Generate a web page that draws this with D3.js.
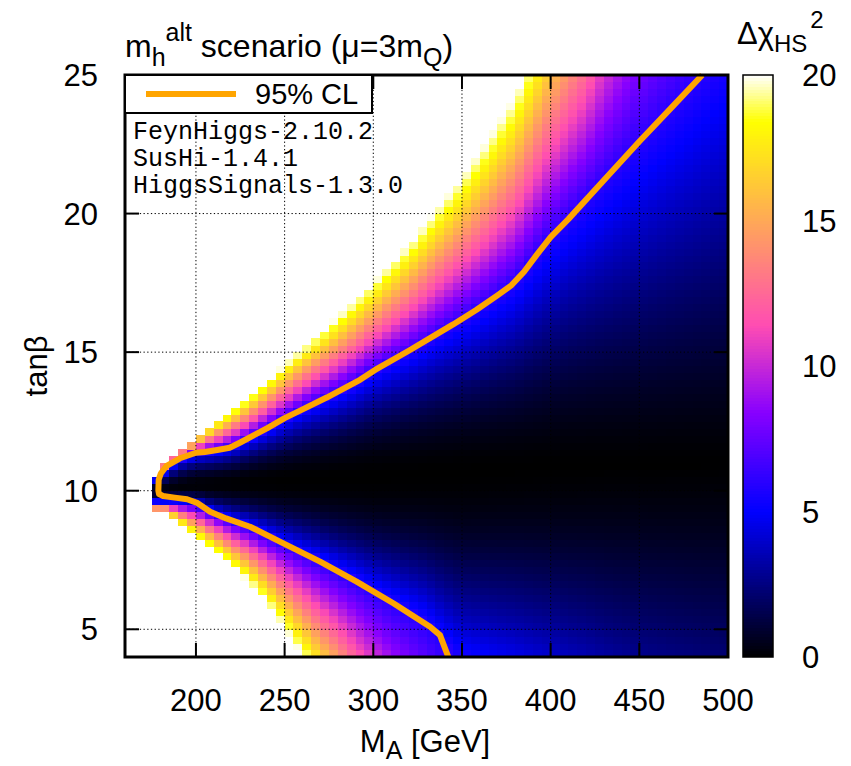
<!DOCTYPE html>
<html>
<head>
<meta charset="utf-8">
<script src="https://cdn.jsdelivr.net/npm/d3@7"></script>
<style>
  body { margin: 0; background: #fff; }
  svg text { font-family: "Liberation Sans", Arial, sans-serif; fill: #000; }
</style>
</head>
<body>
<svg id="chart" width="851" height="766"></svg>
<script>
// readings per M_A column (GeV): where the chi2 field crosses given levels in tanb
var anchorMA   = [177.5, 182.5, 190, 200, 210, 220, 230, 240, 250, 260, 270, 280, 290, 300, 310, 320, 330, 340, 350, 365, 380, 400, 420, 450, 475, 500];
var edgeUpper  = [10.52, 11.04, 11.45, 11.95, 12.45, 12.9, 13.4, 13.95, 14.55, 15.1, 15.7, 16.3, 16.9, 17.5, 18.2, 18.9, 19.7, 20.5, 21.3, 22.7, 24.2, 27.3, 30.1, 39.4, 45, 50];
var clUpper    = [10.42, 10.7, 11.1, 11.35, 11.45, 11.6, 11.9, 12.25, 12.6, 12.95, 13.25, 13.55, 13.9, 14.3, 14.65, 15.0, 15.4, 15.8, 16.2, 16.85, 17.55, 19.2, 20.5, 22.6, 24.3, 26.0];
var centreTanb = [10.0, 10.05, 10.1, 10.2, 10.22, 10.25, 10.28, 10.32, 10.35, 10.38, 10.41, 10.44, 10.47, 10.5, 10.54, 10.58, 10.62, 10.66, 10.7, 10.75, 10.8, 10.85, 10.9, 10.95, 10.98, 11.0];
var minChi2    = [0.3, 0.25, 0.15, 0.1, 0.07, 0.05, 0.03, 0.02, 0, 0, 0, 0, 0, 0, 0, 0, 0, 0, 0, 0, 0, 0, 0, 0, 0, 0];
var shapeExp   = [2, 2, 2, 2, 2, 2, 2, 2, 2, 2, 2, 2, 2, 2, 1.96, 1.92, 1.88, 1.84, 1.8, 1.74, 1.68, 1.6, 1.52, 1.4, 1.35, 1.3];
var clLower    = [9.6, 9.58, 9.6, 9.5, 9.2, 8.95, 8.72, 8.4, 8.08, 7.77, 7.44, 7.08, 6.74, 6.35, 5.98, 5.6, 5.17, 4.45, 3.72, 3.3, 2.87, 2.03, 1.0, -1.15, -2.5, -3.9];
var edgeLower  = [9.22, 9.22, 8.85, 8.35, 7.85, 7.3, 6.7, 5.95, 5.05, 4.1, 3.0, 2.0, 0.5, -1.0, -3.5, -5.9, -9.8, -15, -20, -25, -30, -35, -40, -45, -50, -55];

// 95% CL contour (orange line)
var contourMA   = [485.5, 470, 450, 430, 410, 400, 392, 385, 378, 370, 358, 345, 336, 320, 301, 292.5, 274, 259, 250, 240, 225, 219, 212, 205, 200, 191, 183.5, 180.2, 179, 178.8, 179.2, 181.5, 188, 195, 201, 208, 217, 230.5, 249.3, 270, 290.6, 311.3, 332, 337.6, 342.3];
var contourTanb = [25.0, 23.95, 22.6, 21.2, 19.8, 19.15, 18.5, 17.9, 17.42, 17.05, 16.52, 16.0, 15.66, 15.05, 14.36, 14.0, 13.37, 12.9, 12.62, 12.25, 11.74, 11.55, 11.47, 11.4, 11.37, 11.17, 10.9, 10.62, 10.4, 10.0, 9.88, 9.81, 9.75, 9.69, 9.55, 9.24, 9.0, 8.70, 8.10, 7.44, 6.72, 5.94, 5.09, 4.79, 4.0];

var xTicks = [200, 250, 300, 350, 400, 450, 500];
var yTicks = [5, 10, 15, 20, 25];
var cbTicks = [0, 5, 10, 15, 20];
var codeLines = ["FeynHiggs-2.10.2", "SusHi-1.4.1", "HiggsSignals-1.3.0"];

var svg = d3.select("#chart");
var pL = 125, pR = 728, pT = 75, pB = 657;

var x = d3.scaleLinear().domain([160, 500]).range([pL, pR]);
var y = d3.scaleLinear().domain([4, 25]).range([pB, pT]);

// gnuplot rgbformulae 30,31,32
function palette(t) {
  var cl = function(v) { return Math.max(0, Math.min(1, v)); };
  var r = cl(t / 0.32 - 0.78125);
  var g = cl(2 * t - 0.84);
  var b;
  if (t < 0.25) b = 4 * t;
  else if (t < 0.42) b = 1;
  else if (t < 0.92) b = -2 * t + 1.84;
  else b = t / 0.08 - 11.5;
  return d3.rgb(r * 255, g * 255, cl(b) * 255).toString();
}
var color = d3.scaleSequential(palette).domain([0, 20]).clamp(true);

function along(arr) { return d3.scaleLinear().domain(anchorMA).range(arr).clamp(true); }
var fU20 = along(edgeUpper), fUcl = along(clUpper), fC = along(centreTanb),
    fMin = along(minChi2), fP = along(shapeExp), fLcl = along(clLower), fL20 = along(edgeLower);

function chi2(m, t) {
  var c = fC(m), vmin = fMin(m), p = fP(m);
  if (t >= c) {
    var u = fUcl(m);
    if (t <= u) return vmin + (6 - vmin) * Math.pow((t - c) / (u - c), p);
    return 6 + 14 * (t - u) / (fU20(m) - u);
  }
  var l = fLcl(m);
  if (t >= l) return vmin + (6 - vmin) * Math.pow((c - t) / (c - l), p);
  return 6 + 14 * (l - t) / (l - fL20(m));
}

var cells = [];
for (var m = 175; m < 500; m += 5) {
  for (var t = 4; t < 25; t += 0.25) {
    var v = chi2(m + 2.5, t + 0.125);
    if (v <= 20.2) cells.push({m: m, t: t, v: v});
  }
}

svg.append("g").selectAll("rect")
  .data(cells)
  .enter().append("rect")
    .attr("x", function(d) { return x(d.m); })
    .attr("y", function(d) { return y(d.t + 0.25); })
    .attr("width", x(180) - x(175) + 0.4)
    .attr("height", y(4) - y(4.25) + 0.4)
    .attr("fill", function(d) { return color(d.v); })
    .attr("shape-rendering", "crispEdges");

// grid
var grid = svg.append("g").attr("stroke", "#000").attr("stroke-width", 1).attr("stroke-dasharray", "1.3,2.4");
grid.selectAll(".gx").data(xTicks.slice(0, -1)).enter().append("line")
  .attr("x1", function(d) { return x(d); }).attr("x2", function(d) { return x(d); })
  .attr("y1", pT).attr("y2", pB);
grid.selectAll(".gy").data(yTicks.slice(0, -1)).enter().append("line")
  .attr("y1", function(d) { return y(d); }).attr("y2", function(d) { return y(d); })
  .attr("x1", pL).attr("x2", pR);

// contour
var contour = contourMA.map(function(d, i) { return [d, contourTanb[i]]; });
svg.append("path")
  .datum(contour)
  .attr("fill", "none")
  .attr("stroke", "#ffa500")
  .attr("stroke-width", 6)
  .attr("stroke-linejoin", "round")
  .attr("d", d3.line().x(function(d) { return x(d[0]); }).y(function(d) { return y(d[1]); }));

// ticks on all sides, pointing in
var ticks = svg.append("g").attr("stroke", "#000").attr("stroke-width", 2);
xTicks.forEach(function(d) {
  ticks.append("line").attr("x1", x(d)).attr("x2", x(d)).attr("y1", pB).attr("y2", pB - 14);
  ticks.append("line").attr("x1", x(d)).attr("x2", x(d)).attr("y1", pT).attr("y2", pT + 14);
});
yTicks.forEach(function(d) {
  ticks.append("line").attr("y1", y(d)).attr("y2", y(d)).attr("x1", pL).attr("x2", pL + 14);
  ticks.append("line").attr("y1", y(d)).attr("y2", y(d)).attr("x1", pR).attr("x2", pR - 14);
});

svg.append("rect")
  .attr("x", pL).attr("y", pT)
  .attr("width", pR - pL).attr("height", pB - pT)
  .attr("fill", "none").attr("stroke", "#000").attr("stroke-width", 3);

// tick labels
svg.append("g").selectAll("text").data(xTicks).enter().append("text")
  .attr("x", function(d) { return x(d); }).attr("y", 711)
  .attr("text-anchor", "middle").attr("font-size", 31)
  .text(function(d) { return d; });
svg.append("g").selectAll("text").data(yTicks).enter().append("text")
  .attr("x", 98).attr("y", function(d) { return y(d); }).attr("dy", "0.36em")
  .attr("text-anchor", "end").attr("font-size", 31)
  .text(function(d) { return d; });

// axis titles
var xl = svg.append("text").attr("x", 425).attr("y", 752).attr("text-anchor", "middle").attr("font-size", 31);
xl.append("tspan").text("M");
xl.append("tspan").attr("font-size", 25).attr("dy", 7).text("A");
xl.append("tspan").attr("dy", -7).text(" [GeV]");

svg.append("text")
  .attr("transform", "translate(47,366) rotate(-90)")
  .attr("text-anchor", "middle").attr("font-size", 31)
  .text("tan\u03b2");

// plot title
var tt = svg.append("text").attr("x", 125).attr("y", 57).attr("font-size", 32);
tt.append("tspan").text("m");
tt.append("tspan").attr("font-size", 25).attr("dy", 9).text("h");
tt.append("tspan").attr("font-size", 25).attr("dy", -25).text("alt");
tt.append("tspan").attr("dy", 16).text(" scenario (\u03bc=3m");
tt.append("tspan").attr("font-size", 25).attr("dy", 9).text("Q");
tt.append("tspan").attr("dy", -9).text(")");

// legend
svg.append("rect").attr("x", 125).attr("y", 75).attr("width", 247).attr("height", 38)
  .attr("fill", "#fff").attr("stroke", "#000").attr("stroke-width", 2);
svg.append("line").attr("x1", 146).attr("x2", 236).attr("y1", 94).attr("y2", 94)
  .attr("stroke", "#ffa500").attr("stroke-width", 6);
svg.append("text").attr("x", 255).attr("y", 104).attr("font-size", 29).text("95% CL");

// code versions
svg.append("g").selectAll("text").data(codeLines).enter().append("text")
  .attr("x", 133).attr("y", function(d, i) { return 139 + i * 27; })
  .attr("font-size", 25)
  .style("font-family", "'Liberation Mono', 'Courier New', monospace")
  .text(function(d) { return d; });

// colour box
var cbX = 743, cbW = 30;
var cy = d3.scaleLinear().domain([0, 20]).range([pB, pT]);
var steps = d3.range(0, 20, 0.1);
svg.append("g").selectAll("rect").data(steps).enter().append("rect")
  .attr("x", cbX).attr("width", cbW)
  .attr("y", function(d) { return cy(d + 0.1) - 0.3; })
  .attr("height", cy(0) - cy(0.1) + 0.6)
  .attr("fill", function(d) { return color(d + 0.05); })
  .attr("shape-rendering", "crispEdges");
svg.append("rect").attr("x", cbX).attr("y", pT).attr("width", cbW).attr("height", pB - pT)
  .attr("fill", "none").attr("stroke", "#000").attr("stroke-width", 1.5);
svg.append("g").selectAll("text").data(cbTicks).enter().append("text")
  .attr("x", 802).attr("y", function(d) { return cy(d); }).attr("dy", "0.36em")
  .attr("font-size", 31)
  .text(function(d) { return d; });

var ct = svg.append("text").attr("x", 737).attr("y", 44).attr("font-size", 31);
ct.append("tspan").text("\u0394\u03c7");
ct.append("tspan").attr("font-size", 24).attr("dy", 8).text("HS");
ct.append("tspan").attr("font-size", 24).attr("dy", -24).attr("dx", 3).text("2");
</script>
</body>
</html>
